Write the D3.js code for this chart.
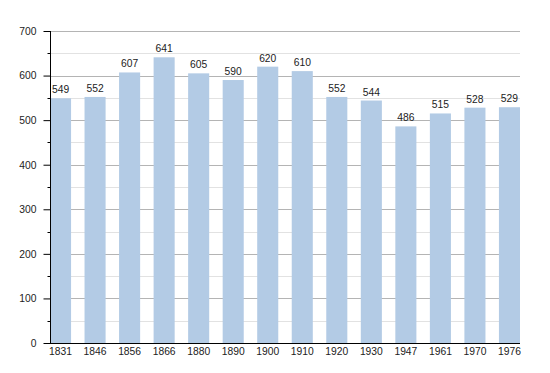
<!DOCTYPE html>
<html><head><meta charset="utf-8">
<script src="https://cdn.jsdelivr.net/npm/d3@7"></script>
<style>body{margin:0;background:#fff}svg{display:block}text{font-family:"Liberation Sans",Arial,sans-serif;fill:#222}</style>
</head><body><svg id="c" width="550" height="373"></svg>
<script>
const years = ["1831","1846","1856","1866","1880","1890","1900","1910","1920","1930","1947","1961","1970","1976"];
const population = [549,552,607,641,605,590,620,610,552,544,486,515,528,529];
const majorTicks = [0,100,200,300,400,500,600,700];
const minorTicks = [50,150,250,350,450,550,650];

const svg = d3.select("#c");
const x = d3.scaleBand().domain(years).range([50,520]).paddingInner(0.39).paddingOuter(0).align(0);
const y = d3.scaleLinear().domain([0,700]).range([343,31]);
const FS = 10.3;

// gridlines
svg.append("g").selectAll("line").data(minorTicks).join("line")
  .attr("x1",50).attr("x2",520).attr("y1",d=>Math.round(y(d))+0.5).attr("y2",d=>Math.round(y(d))+0.5)
  .attr("stroke","#e2e2e2").attr("stroke-width",1);
svg.append("g").selectAll("line").data(majorTicks.filter(d=>d>0)).join("line")
  .attr("x1",50).attr("x2",520).attr("y1",d=>Math.round(y(d))+0.5).attr("y2",d=>Math.round(y(d))+0.5)
  .attr("stroke","#b4b4b4").attr("stroke-width",1);

// bars
svg.append("g").selectAll("rect").data(population).join("rect")
  .attr("x",(d,i)=>x(years[i])).attr("width",x.bandwidth())
  .attr("y",d=>y(d)).attr("height",d=>y(0)-y(d))
  .attr("fill","#b3cbe5");

// value labels
svg.append("g").selectAll("text").data(population).join("text")
  .attr("x",(d,i)=>x(years[i])+x.bandwidth()/2).attr("y",d=>y(d)-5)
  .attr("text-anchor","middle").attr("font-size",FS).text(d=>d);

// y axis
const ya = svg.append("g").attr("transform","translate(50.5,0)")
  .call(d3.axisLeft(y).tickValues(majorTicks).tickSize(7).tickPadding(7).tickFormat(d3.format("d")));
ya.select(".domain").remove();
ya.selectAll(".tick line").attr("stroke","#000");
ya.selectAll(".tick text").attr("font-size",FS).attr("font-family","Liberation Sans, Arial, sans-serif").attr("fill","#222");
svg.append("g").attr("transform","translate(50.5,0)").selectAll("line").data(minorTicks).join("line")
  .attr("x1",-3).attr("x2",0).attr("y1",d=>Math.round(y(d))+0.5).attr("y2",d=>Math.round(y(d))+0.5).attr("stroke","#000");
svg.append("line").attr("x1",50.5).attr("x2",50.5).attr("y1",31).attr("y2",343.5).attr("stroke","#000");

// x axis
const xa = svg.append("g").attr("transform","translate(0,343.5)")
  .call(d3.axisBottom(x).tickSize(0).tickPadding(4));
xa.select(".domain").remove();
xa.selectAll(".tick text").attr("font-size",FS).attr("font-family","Liberation Sans, Arial, sans-serif").attr("fill","#222");
svg.append("line").attr("x1",50).attr("x2",520).attr("y1",343.5).attr("y2",343.5).attr("stroke","#000");
</script></body></html>
